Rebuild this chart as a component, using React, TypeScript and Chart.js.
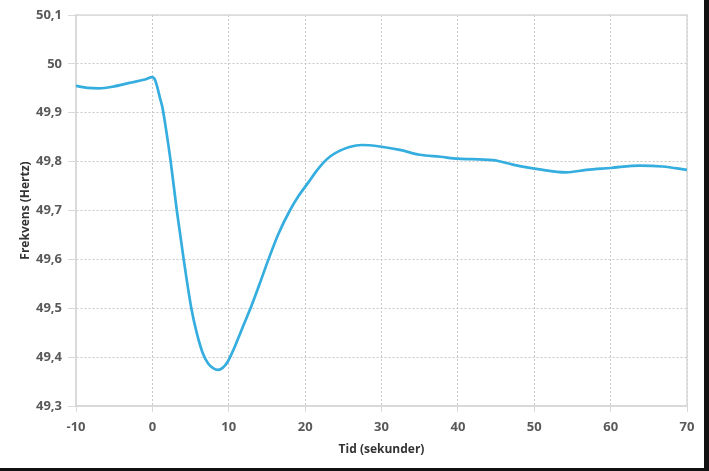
import React, { useEffect, useRef } from "react";
import { Chart, registerables } from "chart.js";

Chart.register(...registerables);

// Time (seconds) and frequency (Hz)
const times = [
  -10, -8.5, -7, -5, -3, -1, 0, 0.3, 0.6, 1.0, 1.3, 1.8, 2.4, 3.2, 4.1, 5.1, 5.8,
  6.6, 7.3, 8.0, 8.6, 9.2, 9.8, 10.5, 11.2, 11.9, 13.0, 14.0, 15.2, 16.5, 18.0,
  19.2, 20.4, 21.4, 22.4, 23.4, 24.5, 25.8, 27.4, 29.8, 32.4, 35.0, 37.7, 40,
  44.6, 47.2, 50.7, 54.2, 56.8, 60, 63.8, 66.8, 70,
];
const freqs = [
  49.955, 49.951, 49.95, 49.954, 49.961, 49.968, 49.973, 49.969, 49.955, 49.93,
  49.912, 49.865, 49.8, 49.7, 49.6, 49.5, 49.45, 49.408, 49.387, 49.377, 49.374,
  49.378, 49.389, 49.411, 49.437, 49.464, 49.506, 49.548, 49.6, 49.652, 49.7,
  49.731, 49.757, 49.779, 49.798, 49.812, 49.822, 49.83, 49.834, 49.831, 49.824,
  49.814, 49.81, 49.806, 49.803, 49.794, 49.784, 49.778, 49.783, 49.787, 49.792,
  49.79, 49.783,
];

const xTitle = "Tid (sekunder)";
const yTitle = "Frekvens (Hertz)";

const frameColor = "#D9D9D9";
const gridColor = "#C8C8C8";
const tickTextColor = "#595959";
const titleColor = "#333333";
const lineColor = "#35AEDF";

const frameBox = {
  id: "frameBox",
  beforeDatasetsDraw(chart: any) {
    const { ctx, chartArea } = chart;
    ctx.save();
    ctx.strokeStyle = frameColor;
    ctx.lineWidth = 1.5;
    ctx.strokeRect(chartArea.left, chartArea.top, chartArea.right - chartArea.left, chartArea.bottom - chartArea.top);
    ctx.restore();
  },
};

export default function App() {
  const ref = useRef<HTMLCanvasElement | null>(null);

  useEffect(() => {
    if (!ref.current) return;
    const tickFont = { family: "'Open Sans', sans-serif", size: 13, weight: "bold" as any };
    const titleFont = { family: "'Open Sans', sans-serif", size: 12, weight: "bold" as any };
    const chart = new Chart(ref.current, {
      type: "line",
      data: {
        datasets: [
          {
            data: times.map((t, i) => ({ x: t, y: freqs[i] })),
            borderColor: lineColor,
            borderWidth: 2.7,
            pointRadius: 0,
            fill: false,
            cubicInterpolationMode: "monotone",
          },
        ],
      },
      options: {
        responsive: false,
        animation: false,
        devicePixelRatio: 1,
        layout: { padding: { left: 0, top: 15, right: 17, bottom: 0 } },
        plugins: { legend: { display: false }, tooltip: { enabled: false } },
        scales: {
          x: {
            type: "linear",
            min: -10,
            max: 70,
            afterFit: (s: any) => {
              s.height = 62;
            },
            ticks: { stepSize: 10, color: tickTextColor, font: tickFont, padding: 7 },
            grid: { color: gridColor, tickColor: frameColor, tickLength: 6, lineWidth: 1 },
            border: { color: frameColor, width: 1.5, dash: [2, 2] },
            title: { display: true, text: xTitle, color: titleColor, font: titleFont, padding: { top: 11, bottom: 11 } },
          },
          y: {
            min: 49.3,
            max: 50.1,
            afterFit: (s: any) => {
              s.width = 76;
            },
            ticks: {
              stepSize: 0.1,
              color: tickTextColor,
              font: tickFont,
              padding: 6,
              callback: (v: any) => String(Number(Number(v).toFixed(1))).replace(".", ","),
            },
            grid: { color: gridColor, tickColor: frameColor, tickLength: 8, lineWidth: 1 },
            border: { color: frameColor, width: 1.5, dash: [2, 2] },
            title: { display: true, text: yTitle, color: titleColor, font: titleFont, padding: { top: 18, bottom: 18 } },
          },
        },
      },
      plugins: [frameBox],
    });
    return () => chart.destroy();
  }, []);

  return (
    <div
      style={{
        position: "fixed",
        left: 0,
        top: 0,
        width: 709,
        height: 471,
        boxSizing: "border-box",
        background: "#fff",
        borderRight: "5px solid #111",
        borderBottom: "3px solid #111",
      }}
    >
      <canvas ref={ref} width={704} height={468} style={{ display: "block" }} />
    </div>
  );
}
